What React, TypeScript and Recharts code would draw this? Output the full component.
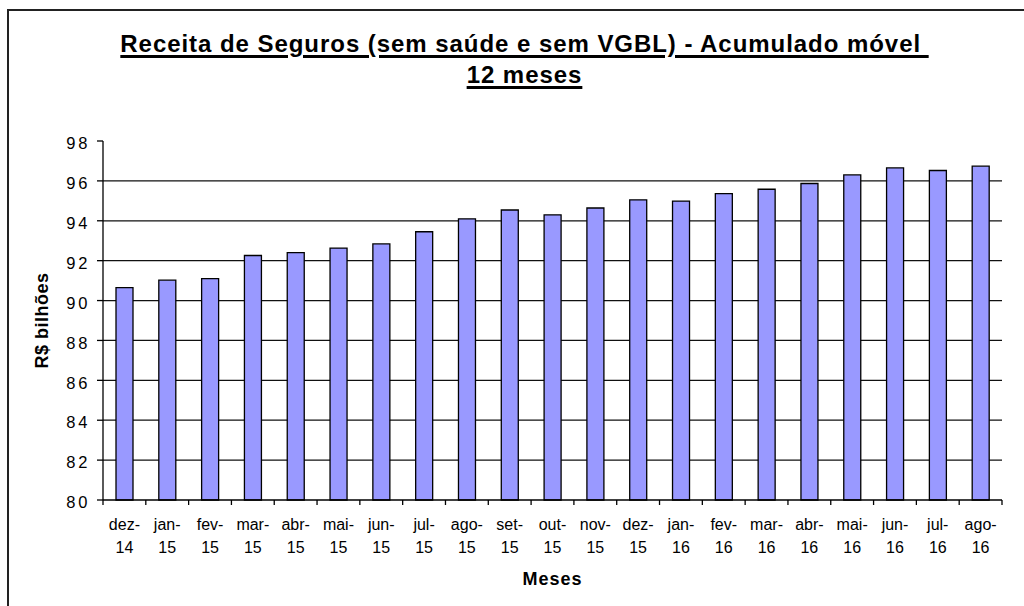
import React from 'react';
import { BarChart, Bar, XAxis, YAxis, CartesianGrid } from 'recharts';

const categories = [
  'dez-14', 'jan-15', 'fev-15', 'mar-15', 'abr-15', 'mai-15', 'jun-15',
  'jul-15', 'ago-15', 'set-15', 'out-15', 'nov-15', 'dez-15', 'jan-16',
  'fev-16', 'mar-16', 'abr-16', 'mai-16', 'jun-16', 'jul-16', 'ago-16',
];
const values = [
  90.65, 91.02, 91.1, 92.26, 92.4, 92.63, 92.84,
  93.45, 94.1, 94.54, 94.3, 94.64, 95.05, 94.99,
  95.36, 95.58, 95.87, 96.3, 96.65, 96.52, 96.74,
];
const yTicks = [80, 82, 84, 86, 88, 90, 92, 94, 96, 98];
const gridValues = [82, 84, 86, 88, 90, 92, 94, 96];
const titleLine1 = 'Receita de Seguros (sem saúde e sem VGBL) - Acumulado móvel';
const titleLine2 = '12 meses';
const yLabel = 'R$ bilhões';
const xLabel = 'Meses';

const data = categories.map((m, i) => ({ m, v: values[i] }));

const FONT = '"Liberation Sans", Arial, Helvetica, sans-serif';

function XTick(props: any) {
  const { x, y, payload, index, visibleTicksCount } = props;
  const half = payload && payload.offset ? payload.offset : 899 / 21 / 2;
  const parts = String(payload.value).split('-');
  const last = index === visibleTicksCount - 1;
  return (
    <g>
      <line x1={x - half} x2={x - half} y1={y} y2={y + 5} stroke="#000" strokeWidth={1.3} />
      {last && <line x1={x + half} x2={x + half} y1={y} y2={y + 5} stroke="#000" strokeWidth={1.3} />}
      <text x={x} y={y + 30} textAnchor="middle" fontSize={16} fontFamily={FONT} fill="#000">
        {parts[0] + '-'}
      </text>
      <text x={x} y={y + 53} textAnchor="middle" fontSize={16} fontFamily={FONT} fill="#000">
        {parts[1]}
      </text>
    </g>
  );
}

function YTick(props: any) {
  const { x, y, payload } = props;
  return (
    <text
      x={x}
      y={y}
      dy={8.2}
      textAnchor="end"
      fontSize={16.5}
      fontFamily={FONT}
      fill="#000"
      style={{ letterSpacing: '3px' }}
    >
      {payload.value}
    </text>
  );
}

function renderYLabel(p: any) {
  const vb = p.viewBox || { x: 0, y: 141, width: 103, height: 359 };
  const cx = vb.x + 42;
  const cy = vb.y + vb.height / 2;
  return (
    <text
      x={cx}
      y={cy}
      transform={`rotate(-90 ${cx} ${cy})`}
      textAnchor="middle"
      dominantBaseline="central"
      fontSize={18}
      fontWeight="bold"
      fontFamily={FONT}
      fill="#000"
      style={{ letterSpacing: '0.5px' }}
    >
      {yLabel}
    </text>
  );
}

function renderXLabel(p: any) {
  const vb = p.viewBox || { x: 103, y: 500, width: 899, height: 80 };
  const cx = vb.x + vb.width / 2;
  return (
    <text
      x={cx}
      y={vb.y + 85}
      textAnchor="middle"
      fontSize={18}
      fontWeight="bold"
      fontFamily={FONT}
      fill="#000"
      style={{ letterSpacing: '1px' }}
    >
      {xLabel}
    </text>
  );
}

export default function App() {
  return (
    <div
      style={{
        position: 'absolute',
        left: 0,
        top: 0,
        width: 1024,
        height: 606,
        overflow: 'hidden',
        background: '#fff',
      }}
    >
      <div
        style={{
          position: 'absolute',
          left: 7,
          top: 9,
          width: 1200,
          height: 800,
          border: '2px solid #222',
        }}
      />
      <div style={{ position: 'absolute', left: 0, top: 0 }}>
        <BarChart
          width={1024}
          height={606}
          data={data}
          margin={{ top: 141, right: 22, bottom: 26, left: 0 }}
        >
          <CartesianGrid
            vertical={false}
            horizontalValues={gridValues}
            stroke="#111"
            strokeWidth={1.2}
          />
          <XAxis
            dataKey="m"
            interval={0}
            height={80}
            tickSize={0}
            tickMargin={0}
            tickLine={false}
            axisLine={{ stroke: '#000', strokeWidth: 1.3 }}
            tick={<XTick />}
            label={renderXLabel}
          />
          <XAxis
            xAxisId="top"
            orientation="top"
            dataKey="m"
            height={0}
            tick={false}
            tickLine={false}
            axisLine={{ stroke: '#8c8c8c', strokeWidth: 1.5 }}
          />
          <YAxis
            type="number"
            domain={[80, 98]}
            ticks={yTicks}
            interval={0}
            width={103}
            tickSize={6}
            tickMargin={6.5}
            tickLine={{ stroke: '#000', strokeWidth: 1.3 }}
            axisLine={{ stroke: '#000', strokeWidth: 1.3 }}
            tick={<YTick />}
            label={renderYLabel}
          />
          <YAxis
            yAxisId="right"
            orientation="right"
            type="number"
            domain={[80, 98]}
            width={0}
            tick={false}
            tickLine={false}
            axisLine={{ stroke: '#8c8c8c', strokeWidth: 1.5 }}
          />
          <Bar
            dataKey="v"
            fill="#9999FF"
            stroke="#000"
            strokeWidth={1.3}
            barSize={17}
            isAnimationActive={false}
          />
        </BarChart>
      </div>
      <div
        style={{
          position: 'absolute',
          left: 0,
          top: 29.3,
          width: 1049,
          textAlign: 'center',
          fontFamily: FONT,
          fontWeight: 'bold',
          fontSize: 24,
          lineHeight: '30.5px',
          letterSpacing: '0.95px',
          color: '#000',
          textDecoration: 'underline',
          textDecorationThickness: '3px',
          textUnderlineOffset: '3px',
        }}
      >
        <div>{titleLine1 + '\u00a0'}</div>
        <div>{titleLine2}</div>
      </div>
    </div>
  );
}
